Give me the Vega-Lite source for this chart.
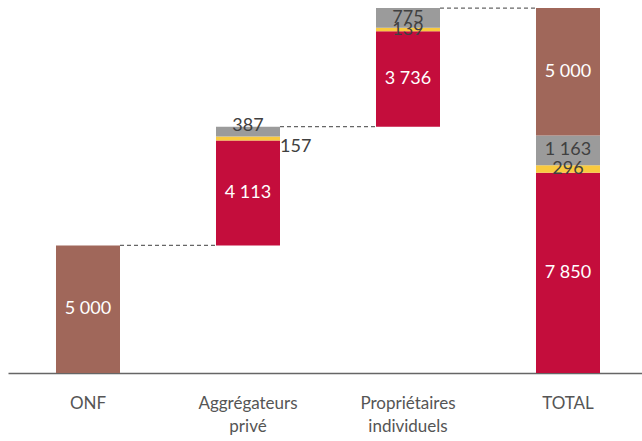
{
  "$schema": "https://vega.github.io/schema/vega-lite/v6.json",
  "width": 634,
  "height": 365,
  "autosize": {"type": "none"},
  "padding": {"left": 8, "top": 8, "right": 0, "bottom": 68},
  "config": {
    "view": {"stroke": null},
    "font": "Lato",
    "locale": {"number": {"decimal": ",", "thousands": " ", "grouping": [3], "currency": ["", " €"]}}
  },
  "datasets": {
    "barres": [
      {"cat": "ONF", "seg": "onf", "start": 0, "end": 5000, "value": 5000},
      {"cat": "Aggrégateurs privé", "seg": "rouge", "start": 5000, "end": 9113, "value": 4113},
      {"cat": "Aggrégateurs privé", "seg": "jaune", "start": 9113, "end": 9270, "value": 157},
      {"cat": "Aggrégateurs privé", "seg": "gris", "start": 9270, "end": 9657, "value": 387},
      {"cat": "Propriétaires individuels", "seg": "rouge", "start": 9657, "end": 13393, "value": 3736},
      {"cat": "Propriétaires individuels", "seg": "jaune", "start": 13393, "end": 13532, "value": 139},
      {"cat": "Propriétaires individuels", "seg": "gris", "start": 13532, "end": 14307, "value": 775},
      {"cat": "TOTAL", "seg": "rouge", "start": 0, "end": 7850, "value": 7850},
      {"cat": "TOTAL", "seg": "jaune", "start": 7850, "end": 8146, "value": 296},
      {"cat": "TOTAL", "seg": "gris", "start": 8146, "end": 9309, "value": 1163},
      {"cat": "TOTAL", "seg": "onf", "start": 9309, "end": 14309, "value": 5000}
    ],
    "liens": [
      {"from": "ONF", "to": "Aggrégateurs privé", "level": 5000},
      {"from": "Aggrégateurs privé", "to": "Propriétaires individuels", "level": 9657},
      {"from": "Propriétaires individuels", "to": "TOTAL", "level": 14307}
    ]
  },
  "encoding": {
    "x": {
      "field": "cat",
      "type": "nominal",
      "title": null,
      "scale": {
        "domain": ["ONF", "Aggrégateurs privé", "Propriétaires individuels", "TOTAL"],
        "paddingInner": 0.6,
        "paddingOuter": 0.28125,
        "align": 0.5333
      },
      "axis": {
        "labelAngle": 0,
        "labelExpr": "split(datum.label, ' ')",
        "labelFontSize": 17,
        "labelFontWeight": "normal",
        "labelColor": "#555555",
        "labelLineHeight": 23,
        "labelPadding": 22,
        "ticks": false,
        "domainColor": "#666666",
        "domainWidth": 1.5
      }
    }
  },
  "layer": [
    {
      "data": {"name": "barres"},
      "mark": {"type": "bar"},
      "encoding": {
        "y": {"field": "start", "type": "quantitative", "scale": {"domain": [0, 14309], "nice": false}, "axis": null},
        "y2": {"field": "end"},
        "color": {
          "field": "seg",
          "type": "nominal",
          "legend": null,
          "scale": {"domain": ["onf", "rouge", "jaune", "gris"], "range": ["#A0675A", "#C40D3C", "#F9CA3F", "#9B9B9B"]}
        }
      }
    },
    {
      "data": {"name": "liens"},
      "mark": {"type": "rule", "strokeDash": [4, 3], "color": "#666666", "strokeWidth": 1.2},
      "encoding": {
        "x": {"field": "from", "type": "nominal", "bandPosition": 1},
        "x2": {"field": "to", "bandPosition": 0},
        "y": {"field": "level", "type": "quantitative"}
      }
    },
    {
      "data": {"name": "barres"},
      "transform": [
        {"filter": "datum.value != 157 && datum.value != 387"},
        {"calculate": "(datum.start + datum.end) / 2", "as": "mid"}
      ],
      "mark": {"type": "text", "fontSize": 18, "baseline": "middle"},
      "encoding": {
        "y": {"field": "mid", "type": "quantitative"},
        "text": {"field": "value", "type": "quantitative", "format": ",d"},
        "color": {
          "condition": {"test": "datum.seg === 'gris' || datum.seg === 'jaune'", "value": "#404040"},
          "value": "white"
        }
      }
    },
    {
      "data": {"name": "barres"},
      "transform": [
        {"filter": "datum.value == 387 && datum.seg == 'gris'"},
        {"calculate": "(datum.start + datum.end) / 2", "as": "mid"}
      ],
      "mark": {"type": "text", "fontSize": 18, "baseline": "middle", "dy": -6, "color": "#404040"},
      "encoding": {
        "y": {"field": "mid", "type": "quantitative"},
        "text": {"field": "value", "type": "quantitative", "format": ",d"}
      }
    },
    {
      "data": {"name": "barres"},
      "transform": [
        {"filter": "datum.value == 157 && datum.seg == 'jaune'"},
        {"calculate": "(datum.start + datum.end) / 2", "as": "mid"}
      ],
      "mark": {"type": "text", "fontSize": 18, "baseline": "middle", "align": "left", "dx": 32, "dy": 8, "color": "#404040"},
      "encoding": {
        "y": {"field": "mid", "type": "quantitative"},
        "text": {"field": "value", "type": "quantitative", "format": ",d"}
      }
    }
  ]
}
